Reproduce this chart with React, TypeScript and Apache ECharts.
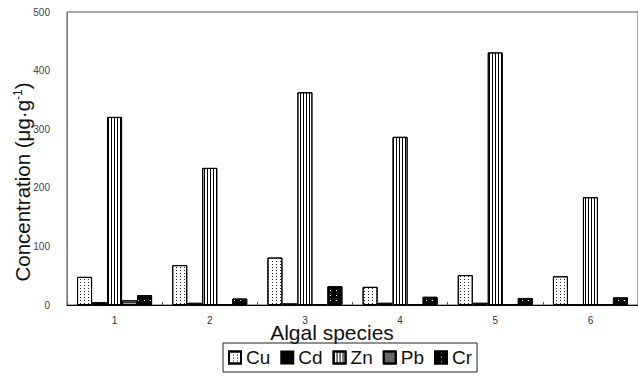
import React, { useEffect, useRef } from "react";
import * as echarts from "echarts";

const categories = ["1", "2", "3", "4", "5", "6"];
const seriesNames = ["Cu", "Cd", "Zn", "Pb", "Cr"];
const cuValues = [48, 68, 81, 31, 51, 49];
const cdValues = [5, 4, 3, 4, 4, 1];
const znValues = [321, 234, 363, 287, 431, 184];
const pbValues = [8, 1, 1, 1, 1, 1];
const crValues = [17, 11, 32, 14, 12, 13];
const yTicks = [0, 100, 200, 300, 400, 500];

const FONT = "Liberation Sans, Arial, sans-serif";

export default function App() {
  const ref = useRef<HTMLDivElement>(null);

  useEffect(() => {
    if (!ref.current) return;
    const chart = echarts.init(ref.current, undefined, { renderer: "svg" });

    const base = {
      type: "bar" as const,
      barWidth: 15,
      barGap: "0%",
    };

    const option: any = {
      animation: false,
      backgroundColor: "#fff",
      grid: {
        left: 67,
        top: 12,
        width: 576,
        height: 293,
        show: true,
        borderColor: "#555",
        borderWidth: 1,
        backgroundColor: "transparent",
      },
      legend: {
        data: seriesNames,
        left: 223,
        top: 343,
        icon: "rect",
        itemWidth: 12,
        itemHeight: 12,
        itemGap: 10,
        padding: [5, 5],
        borderColor: "#222",
        borderWidth: 1,
        textStyle: { fontFamily: FONT, fontSize: 19, color: "#111" },
      },
      xAxis: {
        type: "category",
        data: categories,
        axisLine: { show: true, lineStyle: { color: "#000", width: 1 } },
        axisTick: { show: true, inside: true, length: 3, lineStyle: { color: "#555" } },
        axisLabel: { fontFamily: FONT, fontSize: 10, color: "#333", margin: 10 },
      },
      yAxis: {
        type: "value",
        min: yTicks[0],
        max: yTicks[yTicks.length - 1],
        interval: 100,
        splitLine: { show: false },
        axisLine: { show: true, lineStyle: { color: "#777", width: 1 } },
        axisTick: { show: false },
        axisLabel: { fontFamily: FONT, fontSize: 10, color: "#444", margin: 17 },
      },
      graphic: [
        {
          type: "text",
          x: 22,
          y: 182,
          rotation: Math.PI / 2,
          style: {
            text: "{a|Concentration (μg·g}{s|-1}{a|)}",
            align: "center",
            verticalAlign: "middle",
            fill: "#111",
            rich: {
              a: { fontFamily: FONT, fontSize: 20.5, fill: "#111", verticalAlign: "bottom" },
              s: { fontFamily: FONT, fontSize: 12, fill: "#111", verticalAlign: "top" },
            },
          },
        },
        {
          type: "text",
          x: 332,
          y: 332,
          style: {
            text: "Algal species",
            align: "center",
            verticalAlign: "middle",
            fontFamily: FONT,
            fontSize: 21,
            fill: "#111",
          },
        },
      ],
      series: [
        {
          ...base,
          name: "Cu",
          data: cuValues,
          itemStyle: {
            color: "#fff",
            borderColor: "#000",
            borderWidth: 1,
            decal: {
              symbol: "rect",
              symbolSize: 1,
              color: "#222",
              dashArrayX: [1, 3],
              dashArrayY: [1, 2],
              rotation: 0,
            },
          },
        },
        {
          ...base,
          name: "Cd",
          data: cdValues,
          itemStyle: { color: "#000", borderColor: "#000", borderWidth: 1 },
        },
        {
          ...base,
          name: "Zn",
          data: znValues,
          itemStyle: {
            color: "#fff",
            borderColor: "#000",
            borderWidth: 1,
            decal: {
              symbol: "rect",
              symbolSize: 1,
              color: "#000",
              dashArrayX: [1, 2],
              dashArrayY: [10, 0],
              rotation: 0,
            },
          },
        },
        {
          ...base,
          name: "Pb",
          data: pbValues,
          itemStyle: {
            color: "#aaa",
            borderColor: "#000",
            borderWidth: 1,
            decal: {
              symbol: "rect",
              symbolSize: 1,
              color: "#222",
              dashArrayX: [10, 0],
              dashArrayY: [1, 1],
              rotation: 0,
            },
          },
        },
        {
          ...base,
          name: "Cr",
          data: crValues,
          itemStyle: {
            color: "#000",
            borderColor: "#000",
            borderWidth: 1,
            decal: {
              symbol: "rect",
              symbolSize: 1,
              color: "#fff",
              dashArrayX: [1, 5],
              dashArrayY: [1, 4],
              rotation: 0,
            },
          },
        },
      ],
    };

    chart.setOption(option);
    return () => chart.dispose();
  }, []);

  return (
    <div
      ref={ref}
      style={{ position: "absolute", left: 0, top: 0, width: 638, height: 379 }}
    />
  );
}
